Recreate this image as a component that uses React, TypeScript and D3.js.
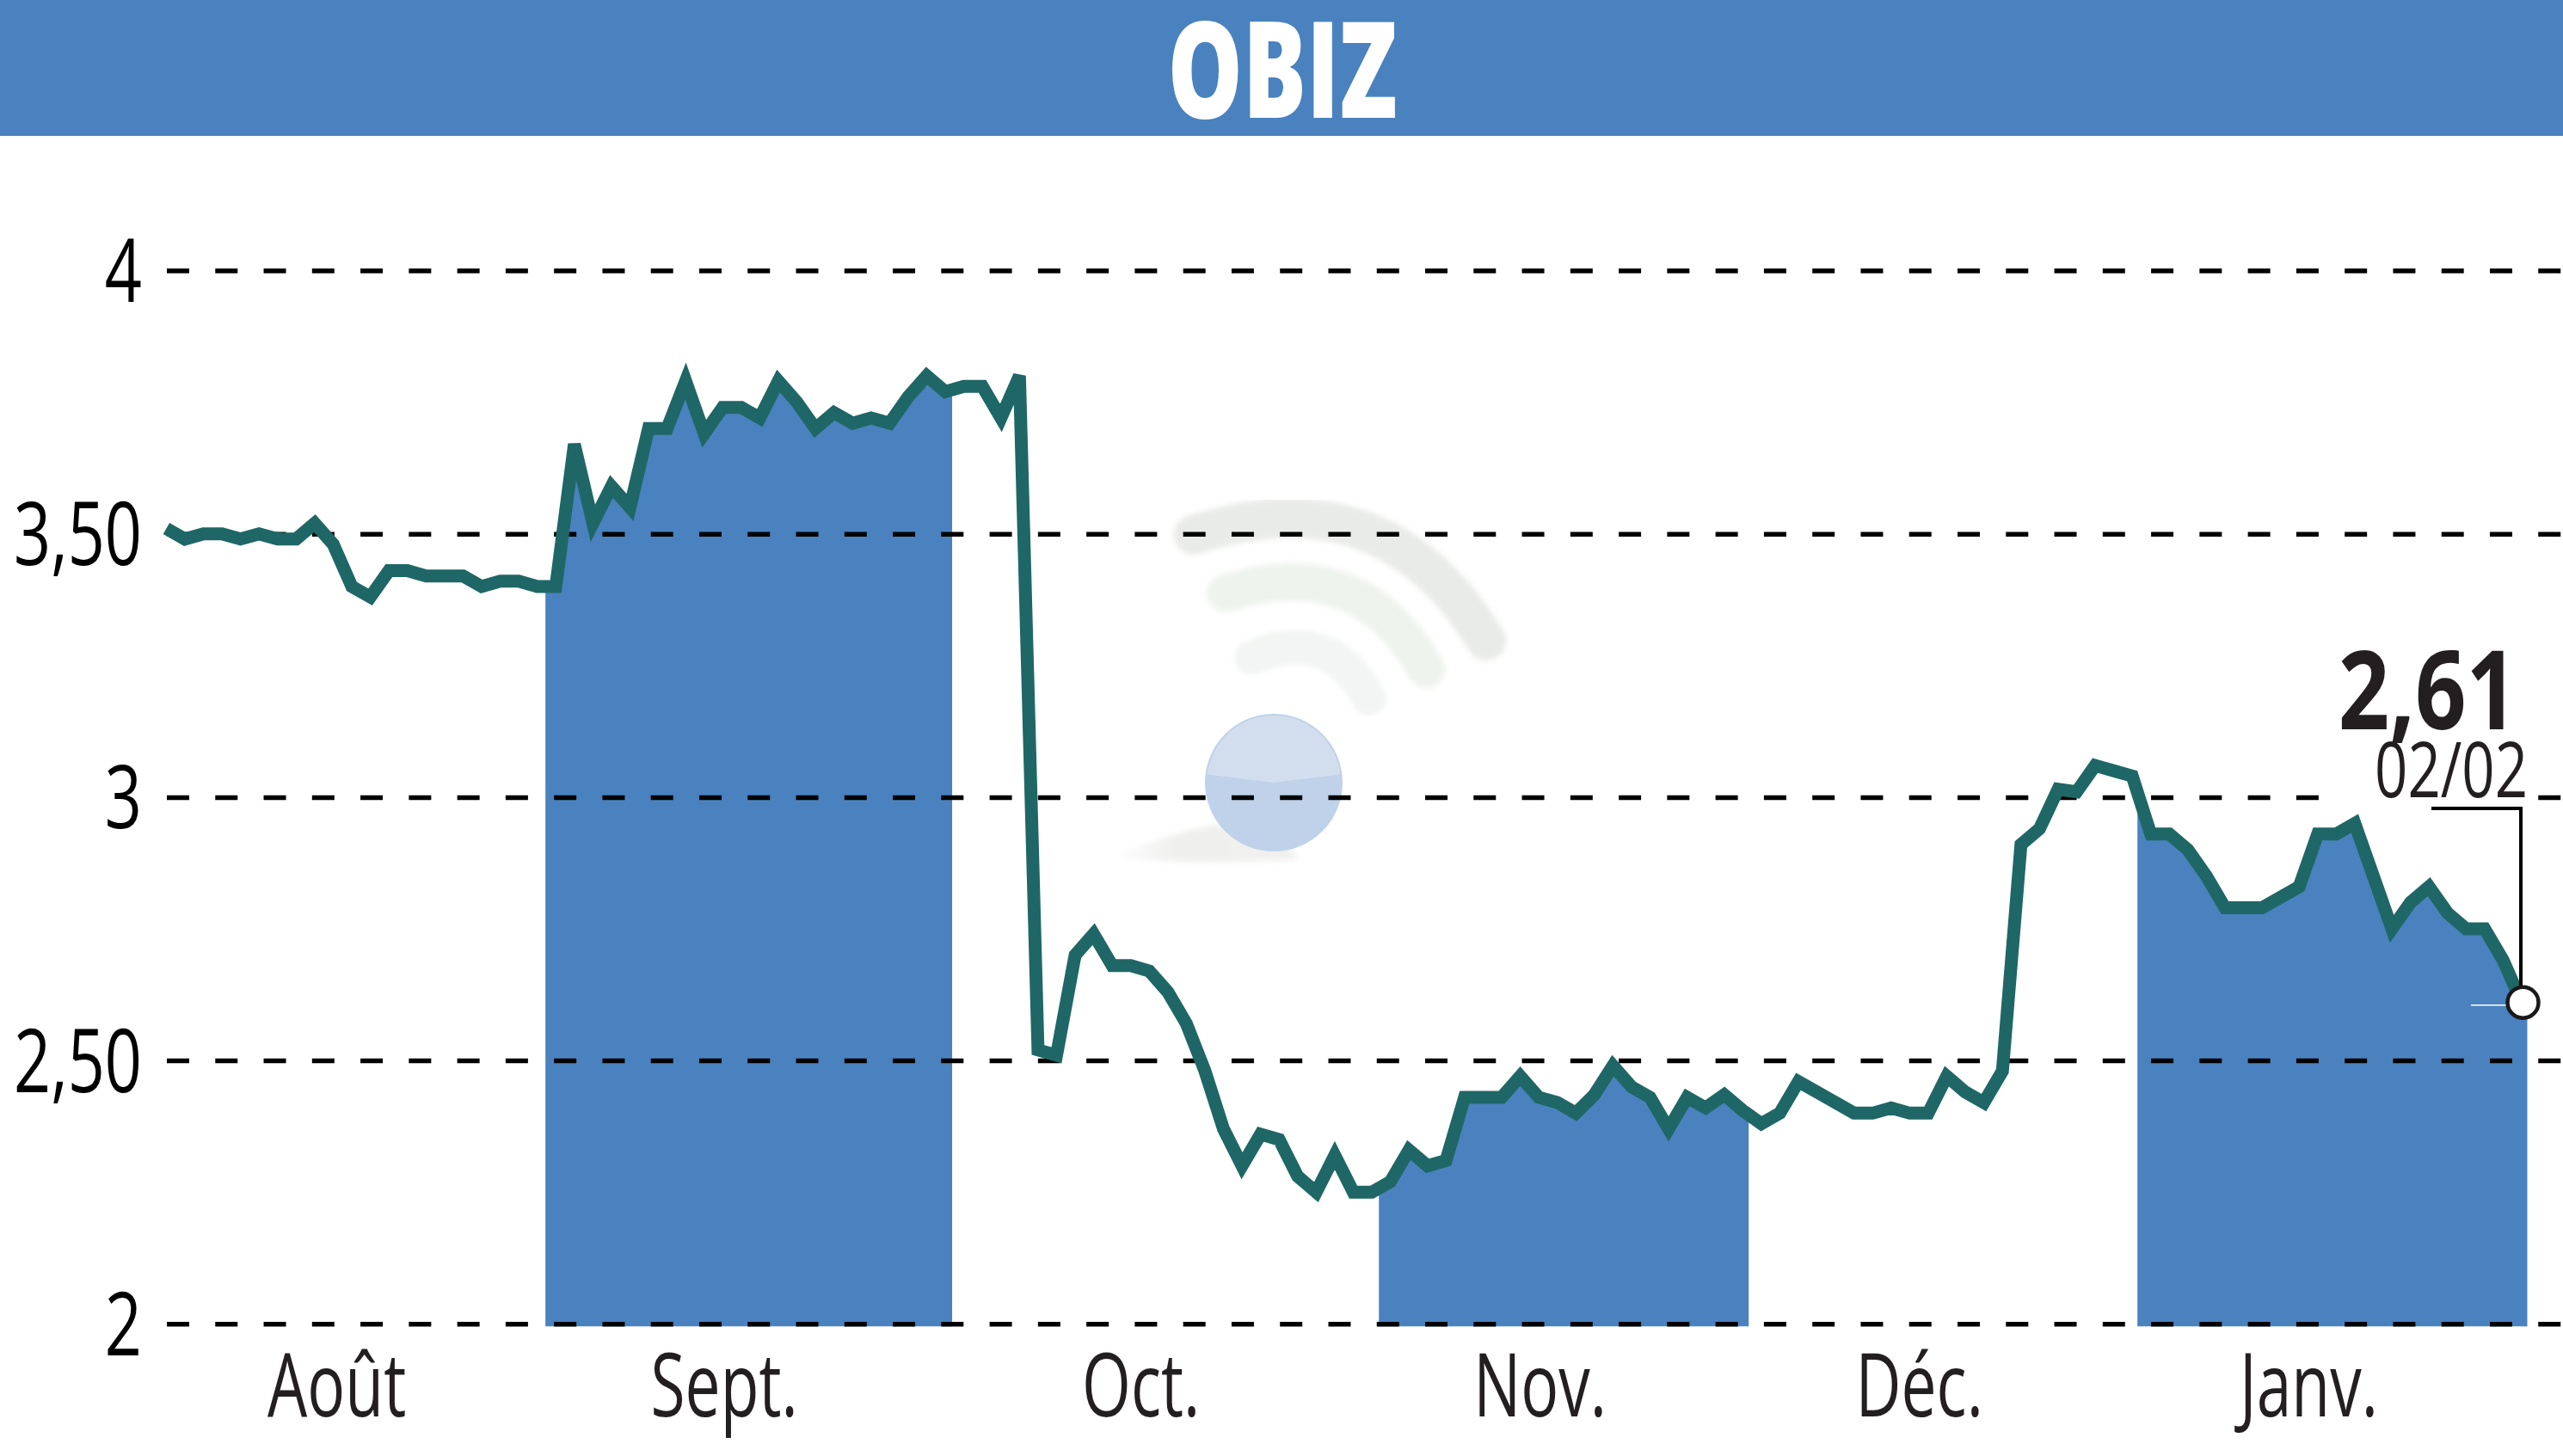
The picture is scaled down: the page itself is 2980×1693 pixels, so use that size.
import { useEffect, useRef } from "react";
import * as d3 from "d3";

// closing prices, one per session
const prices = [
  3.51, 3.49, 3.5, 3.5, 3.49, 3.5, 3.49, 3.49, 3.52, 3.48,
  3.4, 3.38, 3.43, 3.43, 3.42, 3.42, 3.42, 3.4, 3.41, 3.41,
  3.4, 3.4, 3.67, 3.52, 3.59, 3.55, 3.7, 3.7, 3.79, 3.69,
  3.74, 3.74, 3.72, 3.79, 3.75, 3.7, 3.73, 3.71, 3.72, 3.71,
  3.76, 3.8, 3.77, 3.78, 3.78, 3.72, 3.8, 2.52, 2.51, 2.7,
  2.74, 2.68, 2.68, 2.67, 2.63, 2.57, 2.48, 2.37, 2.3, 2.36,
  2.35, 2.28, 2.25, 2.32, 2.25, 2.25, 2.27, 2.33, 2.3, 2.31,
  2.43, 2.43, 2.43, 2.47, 2.43, 2.42, 2.4, 2.435, 2.49, 2.45,
  2.43, 2.37, 2.43, 2.41, 2.435, 2.405, 2.38, 2.4, 2.46, 2.44,
  2.42, 2.4, 2.4, 2.41, 2.4, 2.4, 2.47, 2.44, 2.42, 2.48,
  2.91, 2.94, 3.015, 3.01, 3.06, 3.05, 3.04, 2.93, 2.93, 2.9,
  2.85, 2.79, 2.79, 2.79, 2.81, 2.83, 2.93, 2.93, 2.95, 2.85,
  2.75, 2.8, 2.83, 2.78, 2.75, 2.75, 2.69, 2.61,
];

const yTicks = [2, 2.5, 3, 3.5, 4];
const yLabels = ["2", "2,50", "3", "3,50", "4"];
const months = ["Août", "Sept.", "Oct.", "Nov.", "Déc.", "Janv."];
const monthCenters = [9.17, 30.06, 52.53, 74.05, 94.5, 115.5]; // session index
const shadedMonths: [number, number][] = [
  [20.44, 42.37],
  [65.38, 85.32],
  [106.28, 127.3],
];
const title = "OBIZ";
const lastValue = "2,61";
const lastDate = "02/02";

const W = 2980;
const H = 1693;
const BLUE = "#4a82bf";
const TEAL = "#1f6766";
const FONT = "'Open Sans', sans-serif";

export default function App() {
  const ref = useRef<SVGSVGElement | null>(null);

  useEffect(() => {
    const svg = d3.select(ref.current!);
    svg.selectAll("*").remove();

    const x = d3.scaleLinear().domain([0, prices.length - 1]).range([193.4, 2932]);
    const y = d3.scaleLinear().domain([2, 4]).range([1539.3, 314.5]);

    const defs = svg.append("defs");
    defs
      .append("filter")
      .attr("id", "soft")
      .append("feGaussianBlur")
      .attr("stdDeviation", 3);
    const shadow = defs.append("linearGradient").attr("id", "shadow");
    shadow.append("stop").attr("offset", "0%").attr("stop-color", "#f0f0ef").attr("stop-opacity", 0);
    shadow.append("stop").attr("offset", "35%").attr("stop-color", "#efefee");
    shadow.append("stop").attr("offset", "100%").attr("stop-color", "#f1f1f0");

    svg.append("rect").attr("width", W).attr("height", H).attr("fill", "#fff");
    svg.append("rect").attr("width", W).attr("height", 158).attr("fill", BLUE);
    svg
      .append("text")
      .attr("transform", `translate(1491,137) scale(0.7,1)`)
      .attr("text-anchor", "middle")
      .attr("font-family", FONT)
      .attr("font-weight", 800)
      .attr("font-size", 157)
      .attr("fill", "#fff")
      .text(title);

    // faded logo behind the chart
    const logo = svg
      .append("g")
      .attr("fill", "none")
      .attr("stroke-linecap", "round")
      .attr("filter", "url(#soft)");
    logo.append("path").attr("d", "M1388,622 Q1610,550 1728,745").attr("stroke", "#e9ebe8").attr("stroke-width", 46);
    logo.append("path").attr("d", "M1425,690 Q1580,640 1658,778").attr("stroke", "#eff3ee").attr("stroke-width", 44);
    logo.append("path").attr("d", "M1455,765 Q1545,725 1592,812").attr("stroke", "#f2f5f3").attr("stroke-width", 40);
    svg
      .append("path")
      .attr("d", "M1290,998 Q1400,950 1480,955 L1510,1000 Q1400,1005 1290,998 Z")
      .attr("fill", "url(#shadow)")
      .attr("filter", "url(#soft)");
    svg.append("circle").attr("cx", 1481).attr("cy", 910).attr("r", 80).attr("fill", "#bfd2e9");
    svg
      .append("path")
      .attr("d", d3.arc()({ innerRadius: 0, outerRadius: 78, startAngle: -1.45, endAngle: 1.45 })!)
      .attr("transform", "translate(1481,910)")
      .attr("fill", "#d2deee");

    // shaded months
    const clip = defs.append("clipPath").attr("id", "months");
    shadedMonths.forEach(([a, b]) => {
      clip.append("rect").attr("x", x(a)).attr("y", 0).attr("width", x(b) - x(a)).attr("height", H);
    });
    const area = d3
      .area<number>()
      .x((_, i) => x(i))
      .y0(y(2) + 3)
      .y1((d) => y(d));
    svg
      .append("path")
      .attr("clip-path", "url(#months)")
      .attr("fill", BLUE)
      .attr("d", area(prices)!);
    // the last month runs a little past the final session
    svg
      .append("rect")
      .attr("x", x(prices.length - 1))
      .attr("y", y(prices[prices.length - 1]))
      .attr("width", x(127.3) - x(prices.length - 1))
      .attr("height", y(2) + 3 - y(prices[prices.length - 1]))
      .attr("fill", BLUE);

    // y axis with dashed gridlines
    const yAxis = svg
      .append("g")
      .attr("transform", "translate(194,0)")
      .call(
        d3
          .axisRight(y)
          .tickValues(yTicks)
          .tickSize(W - 194)
          .tickFormat((_, i) => yLabels[i])
      );
    yAxis.select(".domain").remove();
    yAxis
      .selectAll(".tick line")
      .attr("stroke", "#000")
      .attr("stroke-width", 5.5)
      .attr("stroke-dasharray", "26 30.27");
    yAxis
      .selectAll<SVGTextElement, number>(".tick text")
      .attr("x", null)
      .attr("dy", null)
      .attr("transform", "translate(-29,36) scale(0.74,1)")
      .attr("text-anchor", "end")
      .attr("font-family", FONT)
      .attr("font-weight", 500)
      .attr("font-size", 102)
      .attr("fill", "#000");

    // gridline is cut behind the date
    svg.append("rect").attr("x", 2700).attr("y", y(3) - 5).attr("width", 250).attr("height", 10).attr("fill", "#fff");

    // month labels
    const xAxis = svg
      .append("g")
      .attr("transform", "translate(0,1647)")
      .call(
        d3
          .axisBottom(x)
          .tickValues(monthCenters)
          .tickSize(0)
          .tickFormat((_, i) => months[i])
      );
    xAxis.select(".domain").remove();
    xAxis
      .selectAll<SVGTextElement, number>(".tick text")
      .attr("y", null)
      .attr("dy", null)
      .attr("transform", "scale(0.71,1)")
      .attr("text-anchor", "middle")
      .attr("font-family", FONT)
      .attr("font-size", 103)
      .attr("fill", "#231f20");

    // price line
    const line = d3
      .line<number>()
      .x((_, i) => x(i))
      .y((d) => y(d));
    svg
      .append("path")
      .attr("d", line(prices)!)
      .attr("fill", "none")
      .attr("stroke", TEAL)
      .attr("stroke-width", 15)
      .attr("stroke-linejoin", "miter")
      .attr("stroke-miterlimit", 3);

    // last value callout
    const lx = x(prices.length - 1);
    const ly = y(prices[prices.length - 1]);
    svg
      .append("line")
      .attr("x1", lx - 59)
      .attr("x2", lx - 16)
      .attr("y1", ly + 3)
      .attr("y2", ly + 3)
      .attr("stroke", "#fff")
      .attr("stroke-width", 1.5);
    svg
      .append("path")
      .attr("d", d3.line()([[lx - 105, 940], [lx - 1, 940], [lx - 1, ly - 10]])!)
      .attr("fill", "none")
      .attr("stroke", "#000")
      .attr("stroke-width", 4);
    svg
      .append("circle")
      .attr("cx", lx + 1.5)
      .attr("cy", ly)
      .attr("r", 18)
      .attr("fill", "#fff")
      .attr("stroke", "#1a1a1a")
      .attr("stroke-width", 4.5);
    svg
      .append("text")
      .attr("transform", "translate(2927,848) scale(0.82,1)")
      .attr("text-anchor", "end")
      .attr("font-family", FONT)
      .attr("font-weight", 700)
      .attr("font-size", 127)
      .attr("fill", "#231f20")
      .text(lastValue);
    svg
      .append("text")
      .attr("transform", "translate(2939,927) scale(0.745,1)")
      .attr("text-anchor", "end")
      .attr("font-family", FONT)
      .attr("font-size", 90)
      .attr("fill", "#231f20")
      .text(lastDate);
  }, []);

  return <svg ref={ref} width={W} height={H} style={{ position: "absolute", left: 0, top: 0, display: "block" }} />;
}
